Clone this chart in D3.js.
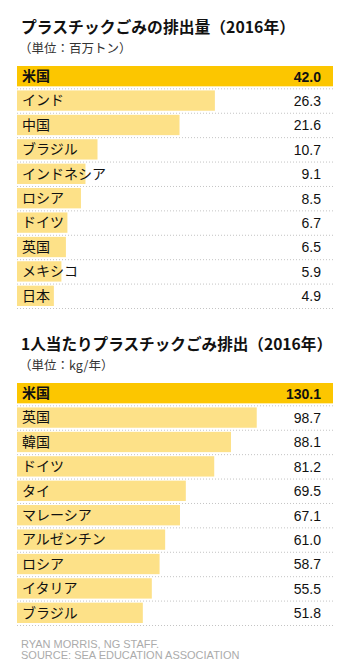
<!DOCTYPE html>
<html><head><meta charset="utf-8">
<script src="https://cdn.jsdelivr.net/npm/d3@7"></script>
<style>
html,body{margin:0;padding:0;background:#fff;}
svg{display:block;}
</style></head>
<body>
<svg id="chart" width="350" height="667"></svg>
<script>
const title1 = "プラスチックごみの排出量（2016年）";
const unit1 = "（単位：百万トン）";
const countries1 = ["米国","インド","中国","ブラジル","インドネシア","ロシア","ドイツ","英国","メキシコ","日本"];
const values1 = [42.0,26.3,21.6,10.7,9.1,8.5,6.7,6.5,5.9,4.9];

const title2 = "1人当たりプラスチックごみ排出（2016年）";
const unit2 = "（単位：kg/年）";
const countries2 = ["米国","英国","韓国","ドイツ","タイ","マレーシア","アルゼンチン","ロシア","イタリア","ブラジル"];
const values2 = [130.1,98.7,88.1,81.2,69.5,67.1,61.0,58.7,55.5,51.8];

const credits = ["RYAN MORRIS, NG STAFF.","SOURCE: SEA EDUCATION ASSOCIATION"];

const svg = d3.select("#chart");
const jp = "'Noto Sans CJK JP', 'Noto Sans', sans-serif";
const num = "'Liberation Sans', Arial, sans-serif";

const titleNodes = [];
function panel(top, title, unit, cats, vals, titleW){
  const g = svg.append("g");
  const t = g.append("text").attr("x",21).attr("y",top+13)
    .attr("font-family",jp).attr("font-weight","bold").attr("font-size",16)
    .attr("fill","#111").text(title);
  titleNodes.push({t, w: titleW});
  g.append("text").attr("x",19).attr("y",top+33)
    .attr("font-family",jp).attr("font-size",12.5)
    .attr("fill","#333").text(unit);
  const y = d3.scaleBand().domain(cats).range([top+46, top+46+24*cats.length]).paddingInner(1/6).paddingOuter(0).align(0);
  const x = d3.scaleLinear().domain([0, d3.max(vals)]).range([17, 333]);
  const data = cats.map((c,i)=>({c, v: vals[i], i}));
  g.selectAll("line.dot").data(data).enter().append("line")
    .attr("x1",17).attr("x2",333)
    .attr("y1",d=>y(d.c)+y.bandwidth()+2.5).attr("y2",d=>y(d.c)+y.bandwidth()+2.5)
    .attr("stroke","#c4c4c4").attr("stroke-width",1).attr("stroke-dasharray","1,2");
  g.selectAll("rect").data(data).enter().append("rect")
    .attr("x",x(0)).attr("y",d=>y(d.c))
    .attr("width",d=>x(d.v)-x(0)).attr("height",y.bandwidth())
    .attr("fill",d=>d.i===0?"#fcc600":"#fde188");
  g.selectAll("text.lab").data(data).enter().append("text")
    .attr("x",22).attr("y",d=>y(d.c)+15)
    .attr("font-family",jp).attr("font-size",14)
    .attr("font-weight",d=>d.i===0?"bold":"normal")
    .attr("fill","#111").text(d=>d.c);
  g.selectAll("text.val").data(data).enter().append("text")
    .attr("x",321).attr("y",d=>y(d.c)+15.5).attr("text-anchor","end")
    .attr("font-family",num).attr("font-size",14)
    .attr("font-weight",d=>d.i===0?"bold":"normal")
    .attr("fill","#111").text(d=>d.v.toFixed(1));
}
panel(20, title1, unit1, countries1, values1, 274);
panel(337, title2, unit2, countries2, values2, 311);

// fit title widths to reference
const fss = titleNodes.map(o => 16 * o.w / o.t.node().getComputedTextLength());
const fs = Math.min(17, Math.max(14, d3.mean(fss)));
titleNodes.forEach(o => {
  o.t.attr("font-size", fs);
  o.t.attr("textLength", o.w).attr("lengthAdjust","spacingAndGlyphs");
});

svg.selectAll("text.cr").data(credits).enter().append("text")
  .attr("x",21).attr("y",(d,i)=>647.5+i*11)
  .attr("font-family",num).attr("font-size",11)
  .attr("fill","#ababab").text(d=>d);
</script>
</body></html>
